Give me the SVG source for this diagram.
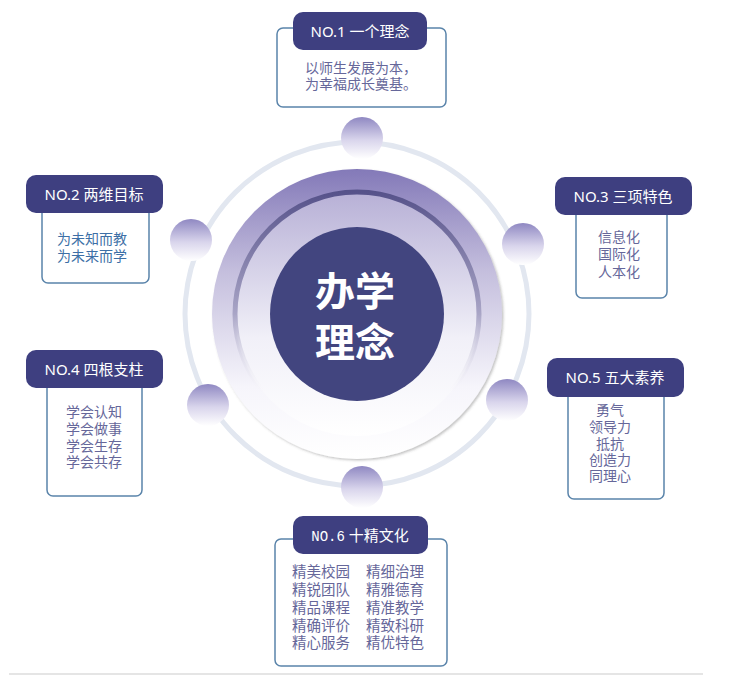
<svg xmlns="http://www.w3.org/2000/svg" width="730" height="676" viewBox="0 0 730 676">
<defs>
<linearGradient id="sph" x1="0" y1="0" x2="0" y2="1">
<stop offset="0" stop-color="#8f88c2"/>
<stop offset="0.55" stop-color="#d9d5ec"/>
<stop offset="1" stop-color="#ffffff"/>
</linearGradient>
<linearGradient id="big" x1="0" y1="0" x2="0" y2="1">
<stop offset="0" stop-color="#8379b8"/>
<stop offset="0.35" stop-color="#c4bedd"/>
<stop offset="0.75" stop-color="#f6f5fb"/>
<stop offset="1" stop-color="#ffffff"/>
</linearGradient>
<linearGradient id="ringS" x1="0" y1="0" x2="0" y2="1">
<stop offset="0" stop-color="#56528a"/>
<stop offset="0.5" stop-color="#a9a5c6"/>
<stop offset="0.85" stop-color="#ffffff" stop-opacity="0"/>
</linearGradient>
<linearGradient id="ringF" x1="0" y1="0" x2="0" y2="1">
<stop offset="0" stop-color="#b7b0d6"/>
<stop offset="0.6" stop-color="#f1f0f8"/>
<stop offset="1" stop-color="#ffffff"/>
</linearGradient>
<filter id="sh" x="-10%" y="-10%" width="120%" height="120%">
<feDropShadow dx="1.5" dy="1.5" stdDeviation="1" flood-color="#555" flood-opacity="0.35"/>
</filter>
</defs>
<style>
.box{fill:#ffffff;stroke:#5a84aa;stroke-width:1.5}
.hd{fill:#3e3f80}
.ht{font-family:"Noto Sans","Noto Sans CJK SC",sans-serif;font-size:15px;fill:#ffffff;text-anchor:middle}
.bt{font-family:"Noto Sans CJK SC",sans-serif;font-size:14px;fill:#66679a;text-anchor:middle}
.bl{fill:#3d6fa6}
.lt{font-size:14.5px;text-anchor:start}
.ct{font-family:"Noto Sans CJK SC",sans-serif;font-size:40px;font-weight:bold;fill:#ffffff;text-anchor:middle}
</style>
<rect width="730" height="676" fill="#ffffff"/>
<g id="hub">
<circle cx="357" cy="314" r="172" fill="none" stroke="#e2e7f0" stroke-width="5"/>
<circle cx="357" cy="314" r="145" fill="url(#big)" filter="url(#sh)"/>
<circle cx="357" cy="314" r="122" fill="url(#ringF)" stroke="url(#ringS)" stroke-width="5"/>
<circle cx="357" cy="314" r="87" fill="#42457f"/>
<text class="ct" x="355" y="306">办学</text>
<text class="ct" x="355" y="357">理念</text>
</g>
<g id="connectors">
<circle cx="362" cy="138" r="21" fill="url(#sph)"/>
<circle cx="191" cy="240" r="21" fill="url(#sph)"/>
<circle cx="523" cy="244" r="21" fill="url(#sph)"/>
<circle cx="208" cy="405" r="21" fill="url(#sph)"/>
<circle cx="507" cy="400" r="21" fill="url(#sph)"/>
<circle cx="362" cy="487" r="21" fill="url(#sph)"/>
</g>
<g id="n1">
<rect class="box" x="277" y="28" width="169" height="79" rx="6"/>
<rect class="hd" x="293" y="12" width="134" height="38" rx="10"/>
<text class="ht" x="360" y="37">NO.1 一个理念</text>
<text class="bt" x="361" y="73">以师生发展为本，</text>
<text class="bt" x="361" y="89">为幸福成长奠基。</text>
</g>
<g id="n2">
<rect class="box" x="42" y="195" width="107" height="88" rx="6"/>
<rect class="hd" x="26" y="175" width="137" height="38" rx="10"/>
<text class="ht" x="94" y="200">NO.2 两维目标</text>
<text class="bt bl" x="92" y="244">为未知而教</text>
<text class="bt bl" x="92" y="261">为未来而学</text>
</g>
<g id="n3">
<rect class="box" x="576" y="197" width="91" height="101" rx="6"/>
<rect class="hd" x="555" y="177" width="137" height="38" rx="10"/>
<text class="ht" x="623" y="202">NO.3 三项特色</text>
<text class="bt" x="619" y="242">信息化</text>
<text class="bt" x="619" y="259">国际化</text>
<text class="bt" x="619" y="277">人本化</text>
</g>
<g id="n4">
<rect class="box" x="47" y="370" width="95" height="126" rx="6"/>
<rect class="hd" x="26" y="350" width="137" height="38" rx="10"/>
<text class="ht" x="94" y="375">NO.4 四根支柱</text>
<text class="bt" x="94" y="417">学会认知</text>
<text class="bt" x="94" y="434">学会做事</text>
<text class="bt" x="94" y="451">学会生存</text>
<text class="bt" x="94" y="467">学会共存</text>
</g>
<g id="n5">
<rect class="box" x="568" y="378" width="96" height="121" rx="6"/>
<rect class="hd" x="547" y="358" width="137" height="39" rx="10"/>
<text class="ht" x="615" y="383">NO.5 五大素养</text>
<text class="bt" x="610" y="415">勇气</text>
<text class="bt" x="610" y="432">领导力</text>
<text class="bt" x="610" y="449">抵抗</text>
<text class="bt" x="610" y="465">创造力</text>
<text class="bt" x="610" y="481">同理心</text>
</g>
<g id="n6">
<rect class="box" x="275" y="539" width="172" height="127" rx="6"/>
<rect class="hd" x="293" y="516" width="135" height="38" rx="10"/>
<text class="ht" x="360" y="541"><tspan font-family="'Liberation Mono',monospace" font-size="14px">NO.6</tspan> 十精文化</text>
<text class="bt lt" x="292" y="577">精美校园</text>
<text class="bt lt" x="292" y="595">精锐团队</text>
<text class="bt lt" x="292" y="613">精品课程</text>
<text class="bt lt" x="292" y="631">精确评价</text>
<text class="bt lt" x="292" y="648">精心服务</text>
<text class="bt lt" x="366" y="577">精细治理</text>
<text class="bt lt" x="366" y="595">精雅德育</text>
<text class="bt lt" x="366" y="613">精准教学</text>
<text class="bt lt" x="366" y="631">精致科研</text>
<text class="bt lt" x="366" y="648">精优特色</text>
</g>
<line x1="9" y1="674" x2="703" y2="674" stroke="#cccccc" stroke-width="1.2"/>
</svg>
